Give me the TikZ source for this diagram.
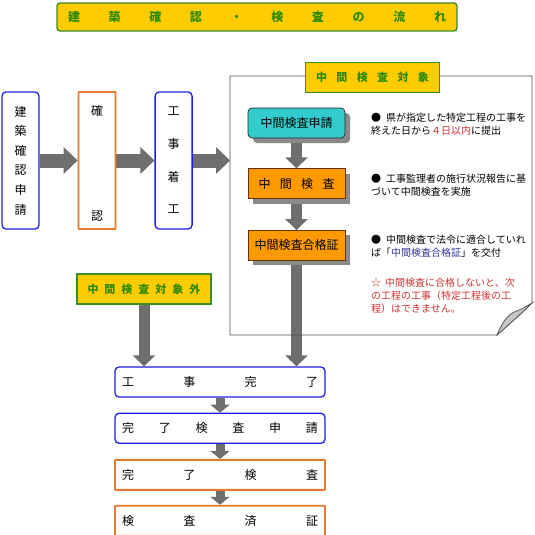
\documentclass[tikz,border=0pt]{standalone}
\usepackage{fontspec}
\setmainfont{Noto Sans CJK JP}
\usetikzlibrary{arrows.meta, positioning, shadows, backgrounds}

\definecolor{tagyellow}{HTML}{FFCC00}
\definecolor{greenline}{HTML}{3C8C28}
\definecolor{greentext}{HTML}{2E8B00}
\definecolor{blueline}{HTML}{2020E0}
\definecolor{orangeline}{HTML}{E67A2E}
\definecolor{cyanfill}{HTML}{33CCCC}
\definecolor{orangefill}{HTML}{FF9900}
\definecolor{arrowgray}{HTML}{6E6E6E}
\definecolor{shadowgray}{HTML}{8A8A8A}
\definecolor{redtext}{HTML}{CC3333}
\definecolor{bluetext}{HTML}{333399}

\begin{document}
\begin{tikzpicture}[
    x=1pt, y=-1pt,
    font=\fontsize{12}{14}\selectfont,
    title/.style={draw=greenline, line width=1.4pt, fill=tagyellow, rounded corners=3pt, text=greentext, font=\fontsize{12}{14}\selectfont\bfseries, minimum width=400pt, minimum height=28pt, inner sep=0pt},
    tag/.style={draw=greenline, line width=1.4pt, fill=tagyellow, text=greentext, font=\fontsize{11}{13}\selectfont\bfseries, minimum width=134pt, minimum height=30pt, inner sep=0pt},
    bluebox/.style={draw=blueline, line width=1.3pt, rounded corners=4pt, fill=white},
    orangebox/.style={draw=orangeline, line width=1.8pt, rounded corners=0.5pt, fill=white},
    colbox/.style={minimum width=37pt, minimum height=137pt, align=center, inner sep=0pt},
    rowbox/.style={minimum width=210pt, minimum height=30pt, inner sep=0pt},
    stepbox/.style={line width=0.7pt, minimum width=97pt, minimum height=30pt, inner sep=0pt, font=\fontsize{12}{14}\selectfont, drop shadow={shadow xshift=5pt, shadow yshift=-5pt, fill=shadowgray, opacity=1}},
    bigarrow/.style={draw=arrowgray, line width=14pt, -{Triangle[length=14pt, width=26pt]}},
    downarrow/.style={draw=arrowgray, line width=11pt, -{Triangle[length=11pt, width=22pt]}},
    smallarrow/.style={draw=arrowgray, line width=9pt, -{Triangle[length=8pt, width=19pt]}},
    notetext/.style={anchor=north west, inner sep=0pt, align=left, font=\fontsize{10}{13}\selectfont}
]
  \useasboundingbox (0,0) rectangle (535,535);

  \node[title] (head) at (257,17) {\makebox[378pt]{建\hfill 築\hfill 確\hfill 認\hfill ・\hfill 検\hfill 査\hfill の\hfill 流\hfill れ}};

  % left column
  \node[colbox, bluebox, font=\fontsize{12}{19.6}\selectfont] (appl) at (20.5,160.5) {建\\築\\確\\認\\申\\請};
  \node[colbox, orangebox, right=38pt of appl] (check) {};
  \node (checka) at ([yshift=-20pt]check.north) {確};
  \node (checkb) at ([yshift=14pt]check.south) {認};
  \node[colbox, bluebox, font=\fontsize{12}{32.7}\selectfont, right=38pt of check] (start) {工\\事\\着\\工};

  % interim inspection
  \node[inner sep=0pt, outer sep=0pt, minimum width=302pt, minimum height=259pt] (note) at (381,205.5) {};
  \draw[gray!60!black, line width=0.7pt] (note.north west) -- (note.north east) -- ([yshift=32pt]note.south east)
    .. controls ([xshift=-12pt, yshift=20pt]note.south east) and ([xshift=-26pt, yshift=8pt]note.south east) .. ([xshift=-35pt]note.south east)
    -- (note.south west) -- cycle;
  \fill[gray!45, draw=gray!60!black, line width=0.7pt] ([xshift=-35pt]note.south east)
    .. controls ([xshift=-30pt, yshift=13pt]note.south east) and ([xshift=-24pt, yshift=20pt]note.south east) .. ([xshift=-18pt, yshift=23pt]note.south east)
    .. controls ([xshift=-10pt, yshift=26pt]note.south east) .. ([yshift=32pt]note.south east)
    .. controls ([xshift=-12pt, yshift=20pt]note.south east) and ([xshift=-26pt, yshift=8pt]note.south east) .. cycle;
  \node[tag] (target) at (372.5,77.5) {\makebox[113pt]{中\hfill 間\hfill 検\hfill 査\hfill 対\hfill 象}};

  \node[stepbox, draw=gray!30!black, fill=cyanfill, rounded corners=4pt] (iapply) at (296.5,123) {中間検査申請};
  \node[stepbox, draw=orange!40!black, fill=orangefill, below=30pt of iapply] (icheck) {\makebox[76pt]{中\hfill 間\hfill 検\hfill 査}};
  \node[stepbox, draw=orange!40!black, fill=orangefill, below=31pt of icheck] (ipass) {中間検査合格証};

  \node[notetext] (memo1) at (371,113) {●\hspace{5pt}県が指定した特定工程の工事を\\終えた日から{\color{redtext}４日以内}に提出};
  \node[notetext] (memo2) at (371,174) {●\hspace{5pt}工事監理者の施行状況報告に基\\づいて中間検査を実施};
  \node[notetext] (memo3) at (371,235) {●\hspace{5pt}中間検査で法令に適合していれ\\ば「{\color{bluetext}中間検査合格証}」を交付};
  \node[notetext, text=redtext] (memo4) at (371,278) {☆\hspace{4pt}中間検査に合格しないと、次\\の工程の工事（特定工程後の工\\程）はできません。};

  \node[tag] (outside) at (144,289) {\makebox[113pt]{中\hfill 間\hfill 検\hfill 査\hfill 対\hfill 象\hfill 外}};

  % completion
  \node[rowbox, bluebox] (done) at (220,382) {\makebox[196pt]{工\hfill 事\hfill 完\hfill 了}};
  \node[rowbox, bluebox, below=15pt of done] (capply) {\makebox[196pt]{完\hfill 了\hfill 検\hfill 査\hfill 申\hfill 請}};
  \node[rowbox, orangebox, below=15pt of capply] (ccheck) {\makebox[196pt]{完\hfill 了\hfill 検\hfill 査}};
  \node[rowbox, orangebox, below=14pt of ccheck] (cert) {\makebox[196pt]{検\hfill 査\hfill 済\hfill 証}};

  \begin{scope}[on background layer]
    \draw[bigarrow] (appl.east) -- (check.west);
    \draw[bigarrow] (check.east) -- (start.west);
    \draw[bigarrow] (start.east) -- (start.east -| note.west);
    \draw[downarrow] (iapply) -- (icheck.north);
    \draw[downarrow] (icheck) -- (ipass.north);
    \draw[downarrow] (ipass) -- (ipass |- done.north);
    \draw[downarrow] (outside) -- (outside |- done.north);
    \draw[smallarrow] (done) -- (capply.north);
    \draw[smallarrow] (capply) -- (ccheck.north);
    \draw[smallarrow] (ccheck) -- (cert.north);
  \end{scope}
\end{tikzpicture}
\end{document}
